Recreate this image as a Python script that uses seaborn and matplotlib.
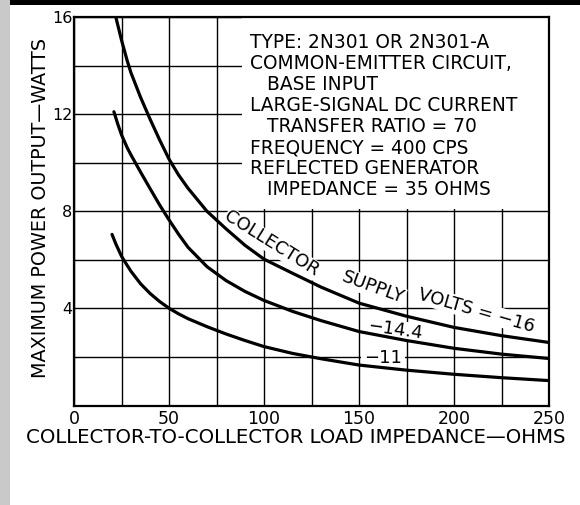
import numpy as np
import pandas as pd
import matplotlib
matplotlib.use("Agg")
import matplotlib.pyplot as plt
import seaborn as sns
from matplotlib.patches import Rectangle

# curves (load ohms -> max power watts)
ohms_16 = [22, 25, 28, 30, 35, 40, 45, 50, 55, 60, 70, 80, 90, 100, 115, 130, 150, 175, 200, 225, 250]
watts_16 = [16.0, 15.05, 14.2, 13.7, 12.7, 11.8, 10.95, 10.15, 9.5, 8.95, 8.0, 7.28, 6.6, 6.03,
            5.45, 4.88, 4.22, 3.68, 3.22, 2.88, 2.6]

ohms_144 = [21, 23, 25, 28, 30, 35, 40, 45, 50, 55, 60, 70, 80, 90, 100, 115, 130, 150, 175, 200, 225, 250]
watts_144 = [12.1, 11.6, 11.15, 10.62, 10.32, 9.62, 8.94, 8.27, 7.65, 7.06, 6.52, 5.72, 5.15, 4.7, 4.33,
             3.88, 3.5, 3.05, 2.68, 2.36, 2.12, 1.94]

ohms_11 = [20, 22, 25, 28, 30, 35, 40, 45, 50, 55, 60, 70, 80, 90, 100, 115, 130, 150, 175, 200, 225, 250]
watts_11 = [7.05, 6.66, 6.15, 5.77, 5.53, 5.02, 4.62, 4.29, 4.01, 3.78, 3.58, 3.25, 2.95, 2.68, 2.43,
            2.15, 1.93, 1.67, 1.46, 1.29, 1.15, 1.03]

supply_volts = ["-16", "-14.4", "-11"]

x_ticks = [0, 50, 100, 150, 200, 250]
y_ticks = [4, 8, 12, 16]

note_lines = [
    ("TYPE: 2N301 OR 2N301-A", False),
    ("COMMON-EMITTER CIRCUIT,", False),
    ("BASE INPUT", True),
    ("LARGE-SIGNAL DC CURRENT", False),
    ("TRANSFER RATIO = 70", True),
    ("FREQUENCY = 400 CPS", False),
    ("REFLECTED GENERATOR", False),
    ("IMPEDANCE = 35 OHMS", True),
]

df = pd.concat([
    pd.DataFrame({"ohms": ohms_16, "watts": watts_16, "volts": supply_volts[0]}),
    pd.DataFrame({"ohms": ohms_144, "watts": watts_144, "volts": supply_volts[1]}),
    pd.DataFrame({"ohms": ohms_11, "watts": watts_11, "volts": supply_volts[2]}),
])

sns.set_theme(style="white")
plt.rcParams["font.family"] = ["DejaVu Sans"]
plt.rcParams["text.color"] = "black"
plt.rcParams["axes.labelcolor"] = "black"

fig = plt.figure(figsize=(5.8, 5.05), dpi=100)
ax = fig.add_axes([0.1276, 0.1968, 0.8190, 0.7695])

# scan artefacts: halftone strip on the left, black bar on top
fig.patches.append(Rectangle((0, 0), 10 / 580, 1, transform=fig.transFigure,
                             facecolor="#c9c9c9", edgecolor="none", zorder=0))
fig.patches.append(Rectangle((10 / 580, 1 - 5 / 505), 1, 5 / 505, transform=fig.transFigure,
                             facecolor="black", edgecolor="none", zorder=0))

sns.lineplot(data=df, x="ohms", y="watts", hue="volts", units="volts", estimator=None,
             palette={v: "black" for v in supply_volts}, linewidth=2.3, legend=False,
             sort=False, ax=ax, zorder=4)

ax.set_xlim(0, 250)
ax.set_ylim(0, 16)
ax.set_xticks(x_ticks)
ax.set_xticks(np.arange(0, 251, 25), minor=True)
ax.set_yticks(y_ticks)
ax.set_yticks(np.arange(0, 17, 2), minor=True)
ax.grid(True, which="both", color="black", linewidth=1.0)
ax.set_axisbelow(True)
ax.tick_params(axis="both", which="both", length=0, colors="black")
ax.tick_params(axis="x", pad=3, labelsize=12.5)
ax.tick_params(axis="y", pad=1, labelsize=11.5)
for s in ax.spines.values():
    s.set_color("black")
    s.set_linewidth(1.6)

ax.set_xlabel("COLLECTOR-TO-COLLECTOR LOAD IMPEDANCE\u2014OHMS", fontsize=14.2)
ax.xaxis.set_label_coords(0.466, -0.058)
ax.set_ylabel("MAXIMUM POWER OUTPUT\u2014WATTS", fontsize=13.8, va="center")
ax.yaxis.set_label_coords(-0.0706, 0.508)

# white panel holding the test conditions
ax.add_patch(Rectangle((88.4, 8.08), 161.6, 7.92, facecolor="white", edgecolor="none", zorder=2))
y0 = 14.96
for i, (line, indent) in enumerate(note_lines):
    ax.text(101.6 if indent else 92.6, y0 - i * 0.868, line, fontsize=13.4,
            ha="left", va="center", zorder=3)

# curve labels
box = dict(facecolor="white", edgecolor="none", pad=0.5)
ax.text(104.2, 6.66, "COLLECTOR", rotation=-32, rotation_mode="anchor", ha="center",
        va="center", fontsize=13, bbox=box, zorder=3)
ax.text(157.5, 4.86, "SUPPLY", rotation=-20, rotation_mode="anchor", ha="center",
        va="center", fontsize=13, bbox=box, zorder=3)
ax.text(211.5, 3.92, "VOLTS = \u221216", rotation=-16, rotation_mode="anchor", ha="center",
        va="center", fontsize=13, bbox=box, zorder=3)
ax.text(169.0, 3.11, "\u221214.4", rotation=-8, rotation_mode="anchor", ha="center",
        va="center", fontsize=13, bbox=box, zorder=3)
ax.text(162.6, 1.96, "\u221211", ha="center", va="center", fontsize=13,
        bbox=dict(facecolor="white", edgecolor="none", pad=2), zorder=3)

fig.savefig("out.png", dpi=100)
